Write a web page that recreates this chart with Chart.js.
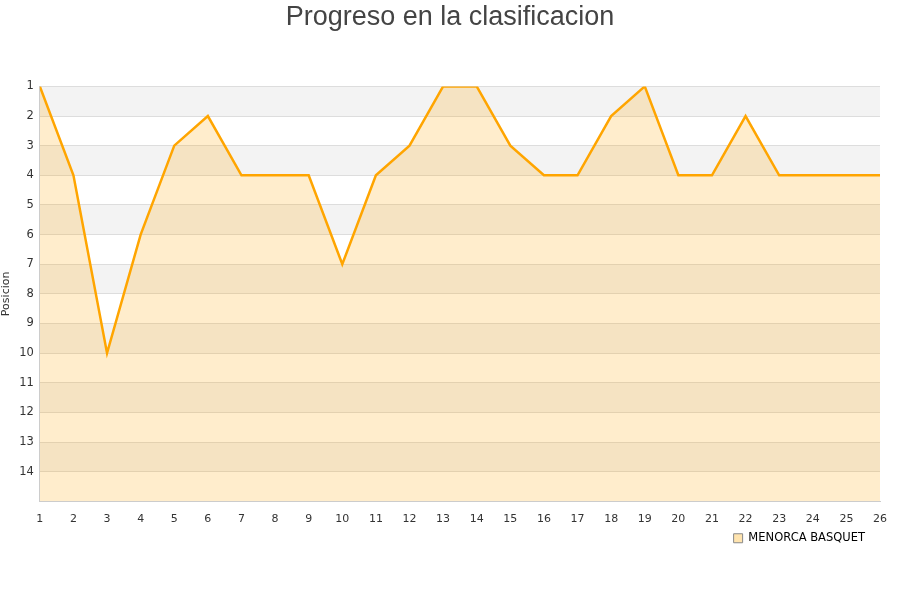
<!DOCTYPE html>
<html lang="es">
<head>
	<meta charset="UTF-8">
	<title>Progreso en la clasificacion</title>
	<script src="https://cdn.jsdelivr.net/npm/chart.js"></script>
	<style>
		body { margin: 0; background: #fff; }
		#wrap { width: 900px; height: 600px; }
	</style>
</head>
<body>
<div id="wrap"><canvas id="progressChart" width="900" height="600"></canvas></div>
<script>
	const jornadas = [1, 2, 3, 4, 5, 6, 7, 8, 9, 10, 11, 12, 13, 14, 15, 16, 17, 18, 19, 20, 21, 22, 23, 24, 25, 26];
	const posiciones = [1, 4, 10, 6, 3, 2, 4, 4, 4, 7, 4, 3, 1, 1, 3, 4, 4, 2, 1, 4, 4, 2, 4, 4, 4, 4];
	const teamName = 'MENORCA BASQUET';
	const minPos = 1;
	const maxPos = 15;

	// alternate grey/white bands behind the grid
	const bandsPlugin = {
		id: 'bands',
		beforeDraw(chart) {
			const { ctx, chartArea, scales } = chart;
			ctx.save();
			ctx.fillStyle = '#f3f3f3';
			for (let v = minPos; v < maxPos; v += 2) {
				const y1 = scales.y.getPixelForValue(v);
				const y2 = scales.y.getPixelForValue(v + 1);
				ctx.fillRect(chartArea.left, y1, chartArea.right - chartArea.left, y2 - y1);
			}
			ctx.restore();
		}
	};

	// legend a bit left of the plot's right edge, title centred on the canvas
	const boxShift = {
		id: 'boxShift',
		afterLayout(chart) {
			chart.legend.left -= 11;
			chart.legend.right -= 11;
			chart.titleBlock.left += 10;
			chart.titleBlock.right += 10;
		}
	};

	const ctx = document.getElementById('progressChart').getContext('2d');
	const chart = new Chart(ctx, {
		type: 'line',
		data: {
			datasets: [{
				label: teamName,
				data: jornadas.map((j, i) => ({ x: j, y: posiciones[i] })),
				borderColor: '#ffa500',
				backgroundColor: 'rgba(255, 165, 0, 0.2)',
				borderWidth: 2.5,
				pointRadius: 0,
				tension: 0,
				fill: { value: maxPos },
				clip: 0
			}]
		},
		options: {
			responsive: false,
			animation: false,
			layout: { padding: { left: 0, right: 20, top: 1, bottom: 46 } },
			plugins: {
				title: {
					display: true,
					text: 'Progreso en la clasificacion',
					color: '#444',
					font: { family: 'Liberation Sans', size: 27, weight: 'normal' },
					padding: { top: 0, bottom: 53 }
				},
				legend: {
					position: 'bottom',
					align: 'end',
					labels: {
						boxWidth: 9,
						boxHeight: 9,
						padding: 4,
						color: '#111',
						font: { family: 'DejaVu Sans', size: 11.5 },
						generateLabels() {
							return [{
								text: teamName,
								fillStyle: 'rgba(255, 228, 175, 1)',
								strokeStyle: '#888',
								lineWidth: 1,
								datasetIndex: 0
							}];
						}
					}
				},
				tooltip: { enabled: false }
			},
			scales: {
				x: {
					type: 'linear',
					min: 1,
					max: 26,
					grid: { display: false },
					border: { color: '#ccc' },
					ticks: {
						stepSize: 1,
						color: '#333',
						font: { family: 'DejaVu Sans', size: 11 },
						maxRotation: 0,
						autoSkip: false
					}
				},
				y: {
					reverse: true,
					min: minPos,
					max: maxPos,
					grid: { color: '#ddd', drawTicks: false },
					border: { color: '#ccc' },
					title: {
						display: true,
						text: 'Posicion',
						color: '#333',
						font: { family: 'DejaVu Sans', size: 11 },
						padding: 0
					},
					ticks: {
						stepSize: 1,
						padding: 6,
						color: '#333',
						font: { family: 'DejaVu Sans', size: 11.5 },
						callback: v => (v < maxPos ? v : '')
					}
				}
			}
		},
		plugins: [bandsPlugin, boxShift]
	});
</script>
</body>
</html>
